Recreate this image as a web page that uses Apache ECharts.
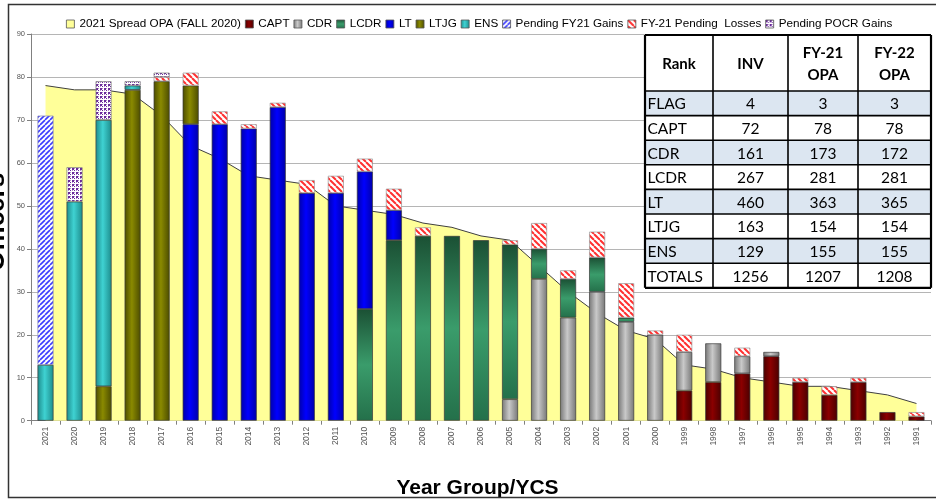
<!DOCTYPE html>
<html>
<head>
<meta charset="utf-8">
<script src="https://cdn.jsdelivr.net/npm/echarts@6/dist/echarts.min.js"></script>
<style>
html,body{margin:0;padding:0;background:#fff;}
#chart{width:936px;height:499px;}
</style>
</head>
<body>
<div id="chart"></div>
<script>
// ---------- DATA ----------
const years = ['2021','2020','2019','2018','2017','2016','2015','2014','2013','2012','2011','2010','2009','2008','2007','2006','2005','2004','2003','2002','2001','2000','1999','1998','1997','1996','1995','1994','1993','1992','1991'];
const D = '-';
const spreadOPA = [78,77,77,76,71,64,61,57,56,55,50,49,48,46,45,43,42,36,30,25,21,19,13,12,10,9,8,8,7,6,4];
const capt   = [D,D,D,D,D,D,D,D,D,D,D,D,D,D,D,D,D,D,D,D,D,D,7,9,11,15,9,6,9,2,1];
const cdr    = [D,D,D,D,D,D,D,D,D,D,D,D,D,D,D,D,5,33,24,30,23,20,9,9,4,1,D,D,D,D,D];
const lcdr   = [D,D,D,D,D,D,D,D,D,D,D,26,42,43,43,42,36,7,9,8,1,D,D,D,D,D,D,D,D,D,D];
const lt     = [D,D,D,D,D,69,69,68,73,53,53,32,7,D,D,D,D,D,D,D,D,D,D,D,D,D,D,D,D,D,D];
const ltjg   = [D,D,8,77,79,9,D,D,D,D,D,D,D,D,D,D,D,D,D,D,D,D,D,D,D,D,D,D,D,D,D];
const ens    = [13,51,62,1,D,D,D,D,D,D,D,D,D,D,D,D,D,D,D,D,D,D,D,D,D,D,D,D,D,D,D];
const gainsFY21 = [58,D,D,D,D,D,D,D,D,D,D,D,D,D,D,D,D,D,D,D,D,D,D,D,D,D,D,D,D,D,D];
const lossesFY21 = [D,D,D,D,1,3,3,1,1,3,4,3,5,2,D,D,1,6,2,6,8,1,4,D,2,D,1,2,1,D,1];
const pocrGains  = [D,8,9,1,1,D,D,D,D,D,D,D,D,D,D,D,D,D,D,D,D,D,D,D,D,D,D,D,D,D,D];
const yTicks = [0,10,20,30,40,50,60,70,80,90];

const tableHeader = ['Rank','INV','FY-21\nOPA','FY-22\nOPA'];
const tableRanks  = ['FLAG','CAPT','CDR','LCDR','LT','LTJG','ENS','TOTALS'];
const invCounts   = [4,72,161,267,460,163,129,1256];
const fy21Opa     = [3,78,173,281,363,154,155,1207];
const fy22Opa     = [3,78,172,281,365,154,155,1208];

// ---------- STYLES ----------
function hGrad(edge, mid){
  return new echarts.graphic.LinearGradient(0,0,1,0,[{offset:0,color:edge},{offset:0.45,color:mid},{offset:1,color:edge}]);
}
function vGrad(a,b,c){
  return new echarts.graphic.LinearGradient(0,0,0,1,[{offset:0,color:a},{offset:0.5,color:b},{offset:1,color:c}]);
}
function stripes(color, size, lw, dir){
  const c = document.createElement('canvas'); c.width = size; c.height = size;
  const g = c.getContext('2d');
  g.fillStyle = '#fff'; g.fillRect(0,0,size,size);
  g.strokeStyle = color; g.lineWidth = lw;
  for (const o of [-size, 0, size]) {
    g.beginPath();
    if (dir === '/') { g.moveTo(o, size); g.lineTo(o + size, 0); }
    else { g.moveTo(o, 0); g.lineTo(o + size, size); }
    g.stroke();
  }
  return {image: c, repeat: 'repeat'};
}
function dots(color){
  const c = document.createElement('canvas'); c.width = 4; c.height = 4;
  const g = c.getContext('2d');
  g.fillStyle = '#fff'; g.fillRect(0,0,4,4);
  g.fillStyle = color; g.fillRect(0,0,2,2); g.fillRect(2,2,1,1);
  g.fillStyle = '#b48ad0'; g.fillRect(2,0,1,1); g.fillRect(0,2,1,1);
  return {image: c, repeat: 'repeat'};
}

const FONT = 'Liberation Sans, Arial, sans-serif';
const chart = echarts.init(document.getElementById('chart'), null, {renderer:'canvas'});

function barSeries(name, data, color, border){
  return {
    name, type:'bar', stack:'total', data, barWidth: 16,
    itemStyle:{color, borderColor: border || '#3a3a3a', borderWidth: 0.7},
    emphasis:{disabled:true}
  };
}

// table graphics
const TZ = 100;
const tCols = [645, 713, 788, 858, 931];
const tTop = 35, tHeadH = 56, tRowH = 24.6;
const tBottom = tTop + tHeadH + tRowH * tableRanks.length;
const tableEls = [];
tableEls.push({type:'rect', z:TZ, shape:{x:tCols[0], y:tTop, width:tCols[4]-tCols[0], height:tBottom-tTop}, style:{fill:'#fff'}});
tableRanks.forEach((r,i)=>{
  if (i % 2 === 0 && i < 7) {
    tableEls.push({type:'rect', z:TZ+1, shape:{x:tCols[0], y:tTop+tHeadH+i*tRowH, width:tCols[4]-tCols[0], height:tRowH}, style:{fill:'#DCE6F1'}});
  }
});
for (let i=0;i<=tableRanks.length;i++){
  const y = tTop + tHeadH + i*tRowH;
  tableEls.push({type:'line', z:TZ+2, shape:{x1:tCols[0], y1:y, x2:tCols[4], y2:y}, style:{stroke:'#000', lineWidth: i===tableRanks.length?2.2:1.6}});
}
tableEls.push({type:'line', z:TZ+2, shape:{x1:tCols[0], y1:tTop, x2:tCols[4], y2:tTop}, style:{stroke:'#000', lineWidth:2.2}});
tCols.forEach((x,i)=>{
  tableEls.push({type:'line', z:TZ+2, shape:{x1:x, y1:tTop, x2:x, y2:tBottom}, style:{stroke:'#000', lineWidth:(i===0||i===4)?2.2:1.6}});
});
tableHeader.forEach((h,i)=>{
  tableEls.push({type:'text', z:TZ+3, x:(tCols[i]+tCols[i+1])/2, y:tTop+tHeadH/2+1,
    style:{text:h, fill:'#000', font:'bold 15px Lato, "Open Sans", sans-serif', align:'center', verticalAlign:'middle', lineHeight:22}});
});
tableRanks.forEach((r,i)=>{
  const cy = tTop + tHeadH + i*tRowH + tRowH/2 + 1;
  const vals = [r, invCounts[i], fy21Opa[i], fy22Opa[i]];
  vals.forEach((v,j)=>{
    tableEls.push({type:'text', z:TZ+3, x: j===0 ? tCols[0]+2.5 : (tCols[j]+tCols[j+1])/2, y: cy,
      style:{text:String(v), fill:'#000', font:'15.5px Lato, "Open Sans", sans-serif', align: j===0?'left':'center', verticalAlign:'middle'}});
  });
});

const option = {
  animation:false,
  backgroundColor:'#fff',
  textStyle:{fontFamily:FONT},
  legend:{
    left:61, top:13, width:875, itemWidth:8, itemHeight:8, itemGap:4,
    textStyle:{fontSize:11.7, color:'#000', fontFamily:FONT},
    itemStyle:{borderColor:'#555', borderWidth:0.8},
    data:[
      {name:'2021 Spread OPA (FALL 2020)', icon:'rect', itemStyle:{color:'#FFFF99', borderColor:'#555', borderWidth:0.8}},
      {name:'CAPT', icon:'rect'},{name:'CDR', icon:'rect'},{name:'LCDR', icon:'rect'},{name:'LT', icon:'rect'},
      {name:'LTJG', icon:'rect'},{name:'ENS', icon:'rect'},{name:'Pending FY21 Gains', icon:'rect'},
      {name:'FY-21 Pending  Losses', icon:'rect'},{name:'Pending POCR Gains', icon:'rect'}
    ]
  },
  grid:{left:31, right:5, top:34, bottom:78.3, containLabel:false, outerBoundsMode:'none'},
  xAxis:{
    type:'category', data:years, boundaryGap:true,
    axisLine:{lineStyle:{color:'#808080', width:1}},
    axisTick:{show:true, length:4, lineStyle:{color:'#808080'}},
    axisLabel:{interval:0, rotate:90, fontSize:8.5, color:'#555', margin:6, fontFamily:FONT}
  },
  yAxis:{
    type:'value', min:0, max:90, interval:10,
    axisLine:{show:true, lineStyle:{color:'#808080', width:1}},
    axisTick:{show:true, length:4, lineStyle:{color:'#808080'}},
    axisLabel:{fontSize:7.5, color:'#555', margin:6, fontFamily:FONT,
      formatter:(v)=> yTicks.includes(v) ? String(v) : ''},
    splitLine:{show:true, lineStyle:{color:'#b5b5b5', width:1}}
  },
  series:[
    {name:'2021 Spread OPA (FALL 2020)', type:'line', data:spreadOPA, z:1, symbol:'none', smooth:false,
      lineStyle:{color:'#404040', width:1}, itemStyle:{color:'#FFFF99'},
      areaStyle:{color:'#FFFF99', opacity:1}, emphasis:{disabled:true}},
    barSeries('CAPT', capt, hGrad('#4a0000','#8b0000')),
    barSeries('CDR', cdr, hGrad('#777777','#c9c9c9')),
    barSeries('LCDR', lcdr, vGrad('#1b5034','#3a9c6b','#24704a')),
    barSeries('LT', lt, hGrad('#0000a8','#0000ff')),
    barSeries('LTJG', ltjg, hGrad('#4c4c00','#8a8a00')),
    barSeries('ENS', ens, hGrad('#1d8c8c','#3fd2d2')),
    barSeries('Pending FY21 Gains', gainsFY21, stripes('#3b3bff',5,1.6,'/'), '#8888aa'),
    barSeries('FY-21 Pending  Losses', lossesFY21, stripes('#ff3030',6,2,'\\'), '#999'),
    barSeries('Pending POCR Gains', pocrGains, dots('#6a2a9a'), '#777')
  ],
  graphic:[
    {type:'group', children: tableEls},
    {type:'text', z:50, x:477.5, y:488, style:{text:'Year Group/YCS', fill:'#000', font:'bold 21px "Liberation Sans", Arial, sans-serif', align:'center', verticalAlign:'middle'}},
    {type:'text', z:50, x:10, y:222, rotation:Math.PI/2, style:{text:'Officers', fill:'#000', font:'bold 26px "Liberation Sans", Arial, sans-serif', align:'center', verticalAlign:'bottom'}},
    {type:'rect', z:60, shape:{x:8.5, y:4.5, width:940, height:493}, style:{fill:'none', stroke:'#333', lineWidth:1.5}}
  ]
};
chart.setOption(option);
</script>
</body>
</html>
